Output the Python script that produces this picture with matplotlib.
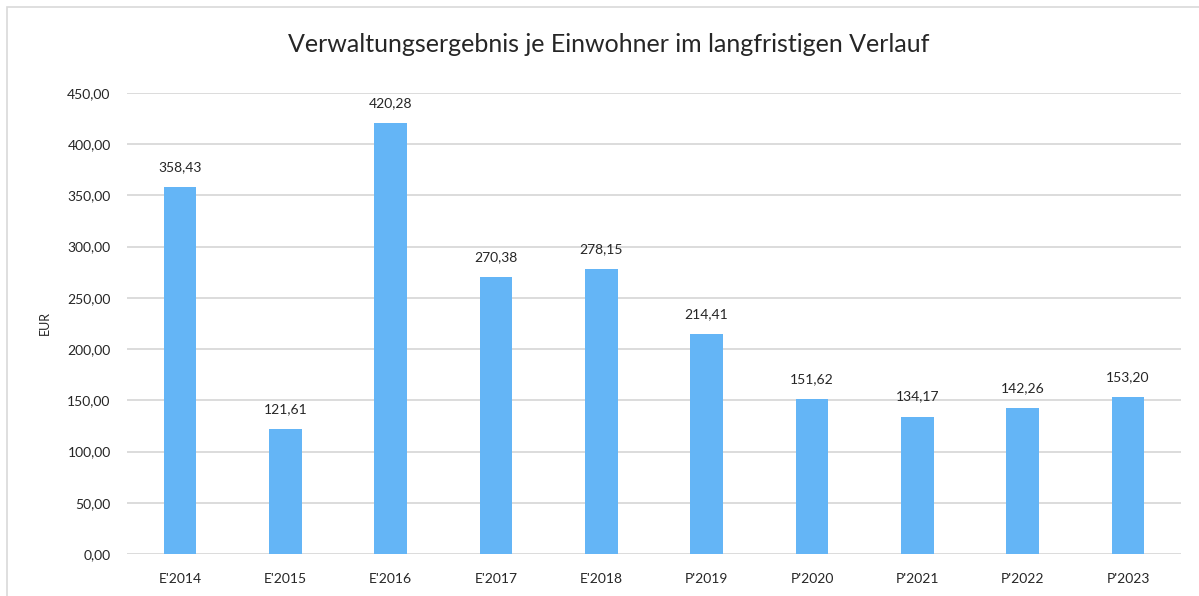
import matplotlib.pyplot as plt
from matplotlib.patches import Rectangle

plt.rcParams['font.family'] = ['Lato', 'DejaVu Sans']

jahre = ["E'2014", "E'2015", "E'2016", "E'2017", "E'2018",
         "P'2019", "P'2020", "P'2021", "P'2022", "P'2023"]
werte = [358.43, 121.61, 420.28, 270.38, 278.15,
         214.41, 151.62, 134.17, 142.26, 153.20]
yticks = [0, 50, 100, 150, 200, 250, 300, 350, 400, 450]

def de(v):
    return f"{v:.2f}".replace('.', ',')

fig = plt.figure(figsize=(11.99, 5.96), dpi=100)
# chart frame (Excel style)
fig.patches.append(Rectangle((7/1199, -0.1), 1.2, 1.1 - 7/596, transform=fig.transFigure,
                             fill=False, edgecolor='#d9d9d9', linewidth=1.2))

ax = fig.add_axes([0.1062, 0.0705, 0.8785, 0.7735])
x = range(len(jahre))
ax.bar(x, werte, width=0.31, color='#64b5f6', zorder=3)
for i, v in enumerate(werte):
    ax.annotate(de(v), (i, v), xytext=(0, 10), textcoords='offset points',
                ha='center', va='bottom', fontsize=10, color='#262626')

ax.set_xlim(-0.5, len(jahre) - 0.5)
ax.set_ylim(0, 450)
ax.set_yticks(yticks)
ax.set_yticklabels([de(t) for t in yticks], fontsize=10, color='#262626')
ax.set_xticks(list(x))
ax.set_xticklabels(jahre, fontsize=10, color='#262626')
ax.tick_params(length=0, pad=12)
ax.tick_params(axis='x', pad=14)
ax.grid(axis='y', color='#d9d9d9', linewidth=1.3, zorder=0)
for s in ax.spines.values():
    s.set_visible(False)
ax.set_ylabel('EUR', fontsize=9, color='#262626', labelpad=12)

fig.text(609/1199, 1 - 45/596, 'Verwaltungsergebnis je Einwohner im langfristigen Verlauf',
         ha='center', va='center', fontsize=18, color='#262626')

fig.savefig('out.png', dpi=100)
